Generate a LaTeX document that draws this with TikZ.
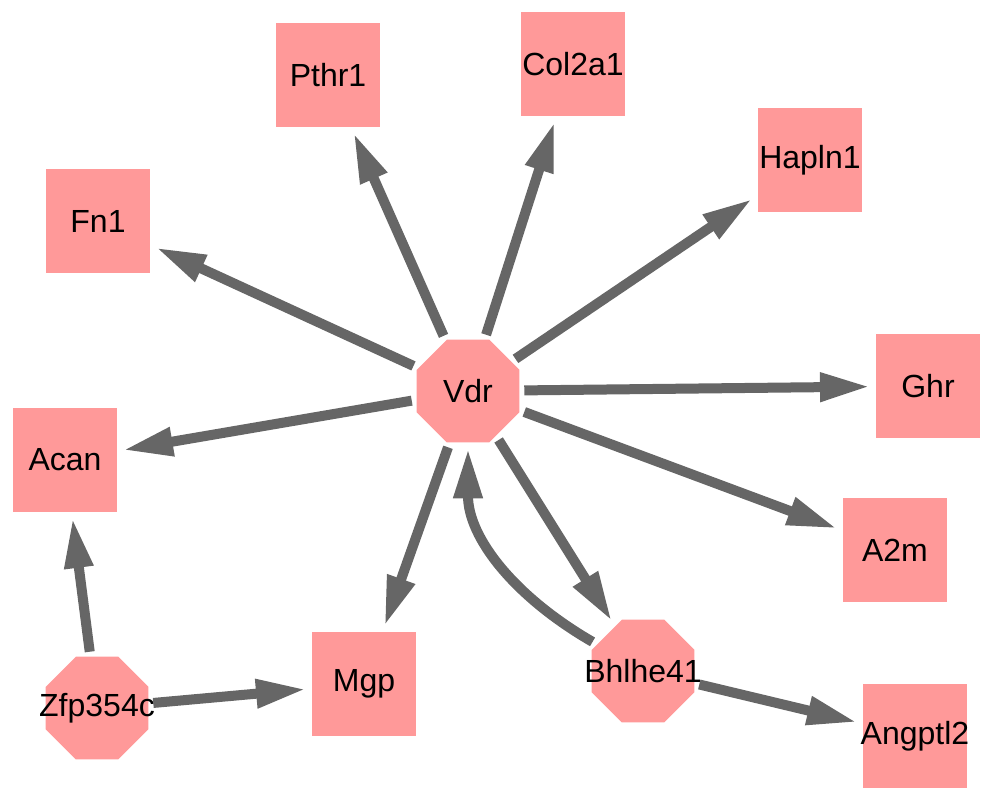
\documentclass[tikz,border=0pt]{standalone}
\usepackage{fontspec}
\setmainfont{Liberation Sans}
\usetikzlibrary{arrows.meta}
\usetikzlibrary{positioning, shapes.geometric, calc}
\definecolor{genefill}{RGB}{255,153,153}
\definecolor{edgegray}{RGB}{102,102,102}
% label that may spill over its octagon
\newcommand{\tfname}[1]{\makebox[0pt]{#1}}

\begin{document}
\begin{tikzpicture}[
  x=1pt, y=-1pt,
  ->, >={Triangle[length=50pt,width=27pt]}, line width=10pt,
  every edge/.style={draw=edgegray,line width=10pt,shorten >=1pt},
  gene/.style={rectangle,fill=genefill,minimum size=104pt,inner sep=0pt,
    font=\fontsize{32}{38}\selectfont},
  tf/.style={regular polygon,regular polygon sides=8,fill=genefill,
    minimum size=111pt,inner sep=0pt,font=\fontsize{32}{38}\selectfont}
]
\useasboundingbox (0,0) rectangle (993,801);

% --- Regulators ---
\node[tf] (vdr) at (468,391) {\tfname{Vdr}};
\node[tf] (bhlhe41) at (643,671) {\tfname{Bhlhe41}};
\node[tf] (zfp354c) at (97,708) {\tfname{Zfp354c}};

% --- Targets ---
\node[gene] (pthr1)   at (328,75)  {Pthr1};
\node[gene] (col2a1)  at (573,64)  {Col2a1};
\node[gene] (hapln1)  at (810,160) {Hapln1};
\node[gene] (fn1)     at (98,221)  {Fn1};
\node[gene] (ghr)     at (928,386) {Ghr};
\node[gene] (acan)    at (65,460)  {Acan};
\node[gene] (a2m)     at (895,550) {A2m};
\node[gene] (mgp)     at (364,684) {Mgp};
\node[gene] (angptl2) at (915,736) {\tfname{Angptl2}};

% --- Regulation ---
\path
  (vdr) edge (pthr1)
        edge (col2a1)
        edge (hapln1)
        edge (fn1)
        edge (ghr)
        edge (acan)
        edge (a2m)
        edge (mgp)
        edge (bhlhe41)
  (bhlhe41) edge[out=150,in=-90] (vdr)
            edge (angptl2)
  (zfp354c) edge (acan)
            edge (mgp);

\end{tikzpicture}
\end{document}
